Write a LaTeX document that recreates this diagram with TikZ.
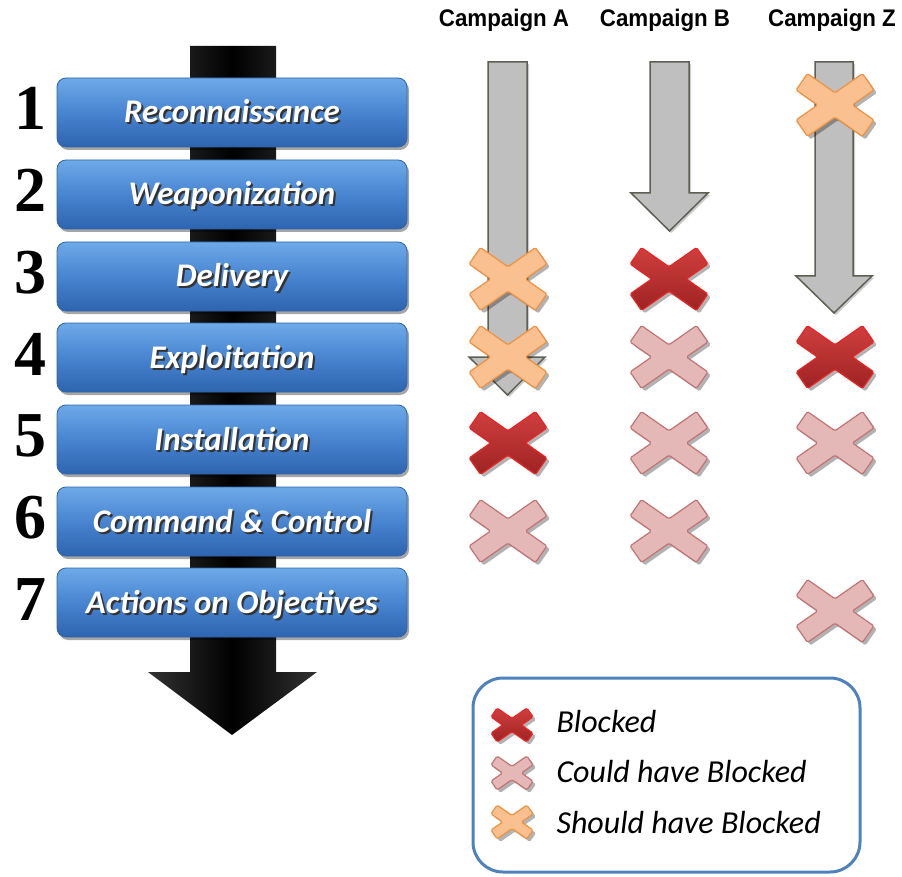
\documentclass[tikz,border=0pt]{standalone}
\usepackage{fontspec}
\usetikzlibrary{shadows}
\newfontfamily\stagefont{Carlito}
\newfontfamily\headfont[FakeStretch=0.93]{Liberation Sans}
\newfontfamily\numfont{Liberation Serif}
\definecolor{stagetop}{RGB}{110,170,232}
\definecolor{stagemid}{RGB}{72,132,208}
\definecolor{stagebot}{RGB}{45,100,175}
\definecolor{stageline}{RGB}{50,100,170}
\definecolor{arrowgray}{RGB}{191,191,191}
\definecolor{arrowline}{RGB}{95,95,85}
\definecolor{blocktop}{RGB}{208,62,62}
\definecolor{blockbot}{RGB}{158,35,35}
\definecolor{blockline}{RGB}{235,35,35}
\definecolor{couldfill}{RGB}{229,184,184}
\definecolor{couldline}{RGB}{195,115,115}
\definecolor{shouldfill}{RGB}{250,192,143}
\definecolor{shouldline}{RGB}{240,145,65}
\definecolor{legendline}{RGB}{79,129,189}
\def\shadowed#1{\rlap{\kern2pt\raisebox{-2pt}{\textcolor{black!80}{#1}}}#1}
\def\crossmark[#1](#2)(#3){\draw[#1,shift={(#2)},scale=#3] (0,12.2) -- (27.5,31.4) -- (38.9,15) -- (17.4,0) -- (38.9,-15) -- (27.5,-31.4) -- (0,-12.2) -- (-27.5,-31.4) -- (-38.9,-15) -- (-17.4,0) -- (-38.9,15) -- (-27.5,31.4) -- cycle;}
\tikzset{
  xshadow/.style={drop shadow={shadow xshift=3pt,shadow yshift=-3pt,opacity=0.3,fill=black}},
  blocked/.style={xshadow,top color=blocktop,bottom color=blockbot,draw=blockline,line width=1.2,rounded corners=1.5},
  could/.style={xshadow,fill=couldfill,draw=couldline,line width=1.2,rounded corners=1.5},
  should/.style={xshadow,fill=shouldfill,draw=shouldline,line width=1.2,rounded corners=1.5},
  grayarrow/.style={fill=arrowgray,draw=arrowline,line width=1.5,drop shadow={shadow xshift=2pt,shadow yshift=-2pt,opacity=0.2,fill=black}},
  stage/.style={draw=stageline,line width=0.8,rounded corners=9,top color=stagetop,bottom color=stagebot,middle color=stagemid,
    minimum width=350,minimum height=69,text=white,text height=21pt,text depth=0pt,
    font=\stagefont\bfseries\itshape\fontsize{33}{36}\selectfont,
    drop shadow={shadow xshift=2pt,shadow yshift=-3pt,opacity=0.35,fill=black}},
  stepnum/.style={anchor=base,font=\numfont\bfseries\fontsize{64}{64}\selectfont},
  camp/.style={anchor=base,font=\headfont\bfseries\fontsize{24}{28}\selectfont},
  legendtext/.style={anchor=base west,font=\stagefont\itshape\fontsize{32}{36}\selectfont}
}
\begin{document}
\begin{tikzpicture}[x=1pt,y=-1pt]
		%%%%% START %%%%%
		\useasboundingbox (0,0) rectangle (902,877);
		
		\shade[left color=black!80, right color=black!80, middle color=black] (190,46) -- (276,46) -- (276,672) -- (317,672) -- (232,735) -- (148,672) -- (190,672) -- cycle;
		
		\node[stage] (recon) at (232,112.5) {\shadowed{Reconnaissance}};
		\node[stage] (weapon) at (232,194.5) {\shadowed{Weaponization}};
		\node[stage] (deliver) at (232,276.5) {\shadowed{Delivery}};
		\node[stage] (exploit) at (232,357.5) {\shadowed{Exploitation}};
		\node[stage] (install) at (232,439.5) {\shadowed{Installation}};
		\node[stage] (cmdctrl) at (232,521.5) {\shadowed{Command \& Control}};
		\node[stage] (actions) at (232,602.5) {\shadowed{Actions on Objectives}};
		
		\node[stepnum] (n1) at (30,130) {1};
		\node[stepnum] (n2) at (30,211.5) {2};
		\node[stepnum] (n3) at (30,293.5) {3};
		\node[stepnum] (n4) at (30,375.5) {4};
		\node[stepnum] (n5) at (30,456.5) {5};
		\node[stepnum] (n6) at (30,538.5) {6};
		\node[stepnum] (n7) at (30,620.5) {7};
		
		\node[camp] (campA) at (504,27) {Campaign A};
		\node[camp] (campB) at (665,27) {Campaign B};
		\node[camp] (campZ) at (832,27) {Campaign Z};
		
		\draw[grayarrow] (488,62) -- (527,62) -- (527,357) -- (545,357) -- (507.5,395) -- (469,357) -- (488,357) -- cycle;
		\draw[grayarrow] (650,62) -- (689,62) -- (689,193) -- (708,193) -- (669.5,231) -- (631,193) -- (650,193) -- cycle;
		\draw[grayarrow] (815,62) -- (853,62) -- (853,276) -- (872,276) -- (834,313) -- (796,276) -- (815,276) -- cycle;
		
		\crossmark[should](508,279)(1);
		\crossmark[should](508,357)(1);
		\crossmark[blocked](508,443)(1);
		\crossmark[could](508,531)(1);
		
		\crossmark[blocked](669,279)(1);
		\crossmark[could](669,357)(1);
		\crossmark[could](669,443)(1);
		\crossmark[could](669,531)(1);
		
		\crossmark[should](835,105)(1);
		\crossmark[blocked](835,357)(1);
		\crossmark[could](835,443)(1);
		\crossmark[could](835,611)(1);
		
		\draw[legendline, line width=3, rounded corners=30] (473,678) rectangle (860,872);
		\crossmark[blocked](512,725)(0.54);
		\crossmark[could](512,773)(0.54);
		\crossmark[should](512,822)(0.54);
		\node[legendtext] (lblocked) at (553,732) {Blocked};
		\node[legendtext] (lcould) at (553,782) {Could have Blocked};
		\node[legendtext] (lshould) at (553,833) {Should have Blocked};
		%%%%% END %%%%%
\end{tikzpicture}
\end{document}
